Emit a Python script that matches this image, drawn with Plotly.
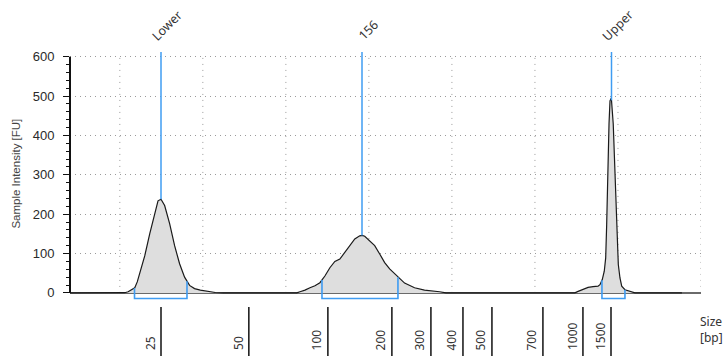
import numpy as np
import plotly.graph_objects as go

# Electropherogram trace: migration time (s) vs fluorescence (FU)
time_s = [14.0, 20.0, 20.6, 21.0, 21.4, 21.8, 22.1, 22.4, 23.0, 23.6, 24.2, 24.6, 24.96,
          25.4, 26.0, 26.6, 27.2, 27.8, 28.4, 29.0, 29.7, 30.9, 31.5, 32.5,
          40.0, 41.3, 41.7, 42.3, 42.9, 43.5, 44.1, 44.7, 45.3, 45.9, 46.5, 47.1, 47.7,
          48.3, 48.9, 49.2, 49.5, 50.1, 50.7, 51.3, 51.9, 52.5, 53.5, 54.3, 55.5, 56.7,
          58.5, 59.3,
          70.0, 74.8, 75.2, 75.8, 76.4, 77.0, 77.6, 77.83, 78.11, 78.35, 78.52, 78.64,
          78.76, 78.92, 79.04, 79.2, 79.43, 79.64, 79.84, 80.04, 80.24, 80.45, 80.84,
          81.45, 82.05, 87.7]
intensity_fu = [0, 0, 0.5, 3, 7, 13, 28, 48, 94, 150, 204, 234, 238,
                222, 176, 120, 74, 40, 19, 11, 7, 3, 1, 0,
                0, 0, 3, 7, 13, 18, 26, 43, 64, 80, 86, 103, 120,
                137, 145, 146, 144, 132, 120, 99, 77, 61, 40, 25, 13, 7,
                3, 0,
                0, 0, 4, 10, 14, 16, 17, 21, 34, 55, 89, 174,
                301, 429, 488, 495, 429, 301, 148, 72, 38, 17, 8,
                4, 0, 0]

# Size ladder (bp) and where each size sits on the time axis
ladder_bp = ["25", "50", "100", "200", "300", "400", "500", "700", "1000", "1500"]
ladder_time = [24.96, 35.54, 45.06, 52.77, 57.47, 61.33, 64.82, 70.96, 75.78, 79.16]

# Called peaks: label, position, integration window
peak_labels = ["Lower", "156", "Upper"]
peak_time = [24.96, 49.17, 79.22]
window_start = [21.77, 44.35, 78.07]
window_end = [28.09, 53.50, 80.84]

y_ticks = [0, 100, 200, 300, 400, 500, 600]
time_grid = [20, 30, 40, 50, 60, 70, 80, 90]

X_RANGE = [14, 90]
Y_RANGE = [-18, 612]
Y_MAX_AXIS = 600
BRACKET_DEPTH = -14

BLUE = "#3f9cf2"

fig = go.Figure()

fig.add_trace(go.Scatter(
    x=time_s, y=intensity_fu, mode="lines", fill="tozeroy",
    fillcolor="#dedede", line=dict(color="#1a1a1a", width=1.2),
    showlegend=False, hoverinfo="skip"))

# Integration windows drawn as brackets under each peak
for t0, t1 in zip(window_start, window_end):
    y0 = float(np.interp(t0, time_s, intensity_fu))
    y1 = float(np.interp(t1, time_s, intensity_fu))
    fig.add_trace(go.Scatter(
        x=[t0, t0, t1, t1], y=[y0, BRACKET_DEPTH, BRACKET_DEPTH, y1],
        mode="lines", line=dict(color=BLUE, width=1.6),
        showlegend=False, hoverinfo="skip"))

shapes = []
# dotted vertical grid
for g in time_grid:
    shapes.append(dict(type="line", xref="x", yref="y", x0=g, x1=g, y0=0, y1=Y_MAX_AXIS,
                       line=dict(color="#9a9a9a", width=1, dash="1px,5px"), layer="below"))
# y axis line
shapes.append(dict(type="line", xref="paper", yref="y", x0=0, x1=0, y0=0, y1=Y_MAX_AXIS,
                   line=dict(color="#111111", width=2)))
# peak markers from apex to top
for t in peak_time:
    apex = float(np.interp(t, time_s, intensity_fu))
    shapes.append(dict(type="line", xref="x", yref="y", x0=t, x1=t, y0=apex, y1=Y_RANGE[1],
                       line=dict(color=BLUE, width=1.5)))
# ladder ticks under the plot
for t in ladder_time:
    shapes.append(dict(type="line", xref="x", yref="paper", x0=t, x1=t, y0=-0.028, y1=-0.24,
                       line=dict(color="#111111", width=1.5)))

annotations = []
for lab, t in zip(peak_labels, peak_time):
    annotations.append(dict(x=t, y=1.02, xref="x", yref="paper", text=lab, showarrow=False,
                            textangle=-45, xanchor="center", yanchor="bottom", xshift=6,
                            font=dict(family="Noto Sans", size=12.5, color="#333333")))
for lab, t in zip(ladder_bp, ladder_time):
    annotations.append(dict(x=t, y=-0.21, xref="x", yref="paper", text=lab, showarrow=False,
                            textangle=-90, xanchor="center", yanchor="bottom", xshift=-11,
                            font=dict(family="Noto Sans", size=12, color="#333333")))
annotations.append(dict(x=0.995, y=-0.12, xref="paper", yref="paper", text="Size<br>[bp]",
                        showarrow=False, xanchor="left", yanchor="middle", align="left",
                        font=dict(family="Noto Sans", size=12, color="#333333")))
annotations.append(dict(x=-0.087, y=0.51, xref="paper", yref="paper",
                        text="Sample Intensity [FU]", showarrow=False, textangle=-90,
                        xanchor="center", yanchor="middle",
                        font=dict(family="Liberation Sans", size=11.5, color="#444444")))

fig.update_layout(
    width=725, height=356,
    margin=dict(l=70, r=24, t=52, b=56),
    paper_bgcolor="white", plot_bgcolor="white",
    shapes=shapes, annotations=annotations,
    xaxis=dict(range=X_RANGE, showgrid=False, zeroline=False, showline=False,
               showticklabels=False, ticks=""),
    yaxis=dict(range=Y_RANGE, tickvals=y_ticks, ticks="outside", ticklen=6, tickwidth=1.2,
               tickcolor="#111111", showline=False,
               showgrid=True, gridcolor="#9a9a9a", griddash="1px,4px", gridwidth=1,
               zeroline=True, zerolinecolor="#6a6a6a", zerolinewidth=2,
               ticklabelstandoff=6,
               tickfont=dict(family="Liberation Sans", size=13, color="#2a2a2a"),
               minor=dict(dtick=20, tick0=0, ticks="outside", ticklen=3,
                          tickcolor="#111111", showgrid=False)),
)

fig.write_html("out.html")
